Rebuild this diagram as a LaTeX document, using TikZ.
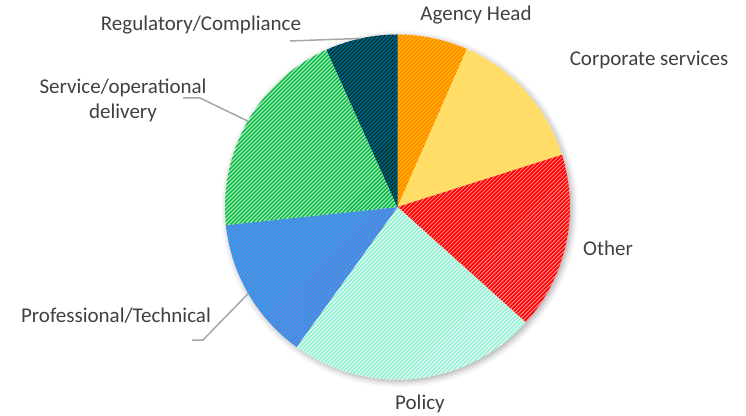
\documentclass[tikz,border=0pt]{standalone}
\usepackage{fontspec}
\setmainfont{Carlito}
\usetikzlibrary{patterns.meta,shadows.blur}
\definecolor{labelgray}{HTML}{404040}
\definecolor{leadergray}{HTML}{A6A6A6}
\definecolor{agencybase}{HTML}{FF8C00}
\definecolor{agencyline}{HTML}{FFC000}
\definecolor{corporatefill}{HTML}{FFDD66}
\definecolor{otherbase}{HTML}{FF0000}
\definecolor{otherline}{HTML}{FF9999}
\definecolor{policybase}{HTML}{DDF8F8}
\definecolor{policyline}{HTML}{80F0C0}
\definecolor{profbase}{HTML}{6C74D8}
\definecolor{profline}{HTML}{20B0F0}
\definecolor{servicebase}{HTML}{A0F0A0}
\definecolor{serviceline}{HTML}{00B050}
\definecolor{regbase}{HTML}{003A28}
\definecolor{regline}{HTML}{0070C0}
\begin{document}
\begin{tikzpicture}[x=1pt,y=1pt,
  hatched/.style n args={3}{fill=#1,postaction={pattern={Lines[angle=45,distance=2.83pt,line width=#3]},pattern color=#2}}]
        \tikzstyle{label}=[text=labelgray,font=\fontsize{21}{25}\selectfont,inner sep=0pt]
        \tikzstyle{leader}=[draw=leadergray,line width=1.5pt]
        \useasboundingbox (0,0) rectangle (746,415);
        \coordinate (c) at (397.5,208);
        \fill[white,blur shadow={shadow xshift=2pt,shadow yshift=-2pt,shadow blur radius=6pt,shadow opacity=35}] (c) circle (172.5);
        \begin{scope}
                \fill[hatched={agencybase}{agencyline}{0.8pt}] (c) -- ++(90:172.5) arc[start angle=90,end angle=66.3,radius=172.5] -- cycle;
                \fill[corporatefill] (c) -- ++(66.3:172.5) arc[start angle=66.3,end angle=17.6,radius=172.5] -- cycle;
                \fill[hatched={otherbase}{otherline}{0.8pt}] (c) -- ++(17.6:172.5) arc[start angle=17.6,end angle=-42.0,radius=172.5] -- cycle;
                \fill[hatched={policybase}{policyline}{1.0pt}] (c) -- ++(-42.0:172.5) arc[start angle=-42.0,end angle=-125.8,radius=172.5] -- cycle;
                \fill[hatched={profbase}{profline}{1.2pt}] (c) -- ++(-125.8:172.5) arc[start angle=-125.8,end angle=-174.0,radius=172.5] -- cycle;
                \fill[hatched={servicebase}{serviceline}{1.3pt}] (c) -- ++(-174.0:172.5) arc[start angle=-174.0,end angle=-245.7,radius=172.5] -- cycle;
                \fill[hatched={regbase}{regline}{0.8pt}] (c) -- ++(-245.7:172.5) arc[start angle=-245.7,end angle=-270,radius=172.5] -- cycle;
        \end{scope}
        \node [label] (agency) at (476,400) {Agency Head};
        \node [label] (corporate) at (649,355) {Corporate services};
        \node [label] (other) at (608,167) {Other};
        \node [label] (policy) at (420,11) {Policy};
        \node [label] (professional) at (116,99) {Professional/Technical};
        \node [label,align=center] (service) at (123,315) {Service/operational\\delivery};
        \node [label] (regulatory) at (201,390) {Regulatory/Compliance};
        \path (c) ++(102.15:172.5) coordinate (regpt);
        \path (c) ++(150.15:172.5) coordinate (servpt);
        \path (c) ++(210.1:172.5) coordinate (profpt);
        \coordinate (regend) at (290,374);
        \coordinate (servend) at (183,317);
        \coordinate (servkink) at (200,317);
        \coordinate (profend) at (192,75);
        \coordinate (profkink) at (203,75);
        \path[leader] (regend) -- (regpt);
        \path[leader] (servend) -- (servkink) -- (servpt);
        \path[leader] (profend) -- (profkink) -- (profpt);
\end{tikzpicture}
\end{document}
